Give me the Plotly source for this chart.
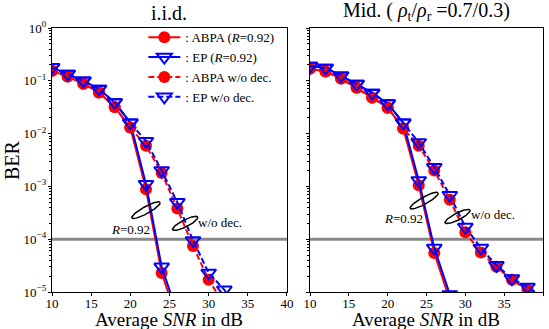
import numpy as np
import plotly.graph_objects as go

# ---------------- data ----------------
snr_L = [10, 12, 14, 16, 18, 20, 22, 24, 26]
abpa_L = [0.155, 0.12, 0.088, 0.06, 0.032, 0.013, 0.00088, 2.3e-5, 3e-6]
ep_L = [0.18, 0.135, 0.1, 0.07, 0.039, 0.016, 0.0011, 3.0e-5, 4e-6]
snr_wo_L = [10, 12, 14, 16, 18, 20, 22, 24, 26, 28, 30, 32, 34]
abpa_wo_L = [0.155, 0.12, 0.088, 0.06, 0.032, 0.013, 0.0059, 0.0018, 3.8e-4, 7.4e-5, 1.7e-5, 6e-6, 2e-6]
ep_wo_L = [0.18, 0.135, 0.1, 0.07, 0.039, 0.016, 0.0072, 0.002, 5e-4, 9.5e-5, 2.3e-5, 1.1e-5, 4e-6]

snr_R = [10, 12, 14, 16, 18, 20, 22, 24, 26, 28]
abpa_R = [0.17, 0.15, 0.11, 0.074, 0.048, 0.031, 0.0125, 0.00105, 5.5e-5, 7e-6]
ep_R = [0.19, 0.175, 0.125, 0.087, 0.059, 0.037, 0.016, 0.0013, 6.8e-5, 9e-6]
snr_wo_R = [10, 12, 14, 16, 18, 20, 22, 24, 26, 28, 30, 32, 34, 36, 38, 40]
abpa_wo_R = [0.17, 0.15, 0.11, 0.074, 0.048, 0.031, 0.0125, 0.0059, 0.002, 5.6e-4, 1.35e-4, 5.6e-5, 3e-5, 1.7e-5, 1.1e-5, 7e-6]
ep_wo_R = [0.19, 0.175, 0.125, 0.087, 0.059, 0.037, 0.016, 0.0068, 0.0023, 6.8e-4, 1.7e-4, 6.8e-5, 3.2e-5, 1.8e-5, 1.25e-5, 8e-6]

ref_ber = 1e-4
x_ticks = [10, 15, 20, 25, 30, 35, 40]
y_tickvals = [1, 1e-1, 1e-2, 1e-3, 1e-4, 1e-5]
y_ticktext = ["10<sup>0</sup>", "10<sup>\u22121</sup>", "10<sup>\u22122</sup>",
              "10<sup>\u22123</sup>", "10<sup>\u22124</sup>", "10<sup>\u22125</sup>"]

legend_names = [": ABPA (<i>R</i>=0.92)", ": EP (<i>R</i>=0.92)",
                ": ABPA w/o dec.", ": EP w/o dec."]

FONT = "Liberation Serif"
RED = "#ff0000"
BLUE = "#0000ff"
DASH = "6px,3px"

fig = go.Figure()

def add_set(xa, ya, sx, a, e, swo, awo, ewo, show):
    fig.add_trace(go.Scatter(x=sx, y=a, mode="lines+markers", name=legend_names[0],
                             line=dict(color=RED, width=2),
                             marker=dict(symbol="circle", size=12, color=RED),
                             xaxis=xa, yaxis=ya, showlegend=show))
    fig.add_trace(go.Scatter(x=sx, y=e, mode="lines+markers", name=legend_names[1],
                             line=dict(color=BLUE, width=2),
                             marker=dict(symbol="triangle-down-open", size=13, color=BLUE,
                                         line=dict(width=2, color=BLUE)),
                             xaxis=xa, yaxis=ya, showlegend=show))
    fig.add_trace(go.Scatter(x=swo, y=awo, mode="lines+markers", name=legend_names[2],
                             line=dict(color=RED, width=2, dash=DASH),
                             marker=dict(symbol="circle", size=12, color=RED),
                             xaxis=xa, yaxis=ya, showlegend=show))
    fig.add_trace(go.Scatter(x=swo, y=ewo, mode="lines+markers", name=legend_names[3],
                             line=dict(color=BLUE, width=2, dash=DASH),
                             marker=dict(symbol="triangle-down-open", size=13, color=BLUE,
                                         line=dict(width=2, color=BLUE)),
                             xaxis=xa, yaxis=ya, showlegend=show))

# reference lines at BER = 1e-4
for xa, ya in (("x", "y"), ("x2", "y2")):
    fig.add_trace(go.Scatter(x=[x_ticks[0], x_ticks[-1]], y=[ref_ber, ref_ber], mode="lines",
                             line=dict(color="#888888", width=3), xaxis=xa, yaxis=ya,
                             showlegend=False, hoverinfo="skip"))

add_set("x", "y", snr_L, abpa_L, ep_L, snr_wo_L, abpa_wo_L, ep_wo_L, True)
add_set("x2", "y2", snr_R, abpa_R, ep_R, snr_wo_R, abpa_wo_R, ep_wo_R, False)

# ellipses (annotation marks), defined in pixel offsets around a data-space centre
PX_PER_DB = 7.8
PX_PER_DEC = 52.8
def ellipse(xa, ya, cx, cy_log, a_px, b_px, ang_deg):
    t = np.linspace(0, 2 * np.pi, 80)
    th = np.deg2rad(ang_deg)
    dx = a_px * np.cos(t) * np.cos(th) - b_px * np.sin(t) * np.sin(th)
    dy = a_px * np.cos(t) * np.sin(th) + b_px * np.sin(t) * np.cos(th)
    xs = cx + dx / PX_PER_DB
    ys = 10 ** (cy_log + dy / PX_PER_DEC)
    fig.add_trace(go.Scatter(x=xs, y=ys, mode="lines", line=dict(color="black", width=1.5),
                             xaxis=xa, yaxis=ya, showlegend=False, hoverinfo="skip"))

ellipse("x", "y", 22.0, -3.45, 16, 3.5, 29)
ellipse("x", "y", 27.0, -3.70, 14, 3.5, 27)
ellipse("x2", "y2", 24.7, -3.27, 16, 3.5, 29)
ellipse("x2", "y2", 29.0, -3.57, 14, 3.5, 27)

ann_font = dict(family=FONT, size=13, color="black")
xtitle_font = dict(family=FONT, size=19, color="black")
annotations = [
    dict(x=20.0, y=-3.81, xref="x", yref="y", text="<i>R</i>=0.92", showarrow=False,
         font=ann_font, xanchor="center"),
    dict(x=28.4, y=-3.68, xref="x", yref="y", text="w/o dec.", showarrow=False,
         font=ann_font, xanchor="left"),
    dict(x=22.0, y=-3.60, xref="x2", yref="y2", text="<i>R</i>=0.92", showarrow=False,
         font=ann_font, xanchor="center"),
    dict(x=30.5, y=-3.54, xref="x2", yref="y2", text="w/o dec.", showarrow=False,
         font=ann_font, xanchor="left"),
    dict(x=0.2393, y=1.0, xref="paper", yref="paper", xanchor="center", yanchor="bottom", yshift=2,
         text="i.i.d.", showarrow=False, font=dict(family=FONT, size=20, color="black")),
    dict(x=0.7627, y=1.0, xref="paper", yref="paper", xanchor="center", yanchor="bottom", yshift=2,
         text="Mid. ( <i>\u03c1</i><sub>t</sub>/<i>\u03c1</i><sub>r</sub> =0.7/0.3)",
         showarrow=False, font=dict(family=FONT, size=20, color="black")),
    dict(x=0.2393, y=-0.106, xref="paper", yref="paper", xanchor="center", yanchor="middle",
         text="Average <i>SNR</i> in dB", showarrow=False, font=xtitle_font),
    dict(x=0.7627, y=-0.106, xref="paper", yref="paper", xanchor="center", yanchor="middle",
         text="Average <i>SNR</i> in dB", showarrow=False, font=xtitle_font),
    dict(x=-0.0815, y=0.5, xref="paper", yref="paper", xanchor="center", yanchor="middle",
         textangle=-90, text="BER", showarrow=False,
         font=dict(family=FONT, size=20, color="black")),
]

axis_common = dict(showline=True, linecolor="black", linewidth=1.3, mirror=True,
                   showgrid=False, zeroline=False, ticks="outside", ticklen=3,
                   tickcolor="black", automargin=False,
                   tickfont=dict(family=FONT, size=13, color="black"))

xcommon = dict(axis_common, range=[10, 40], tickvals=x_ticks, ticklabelstandoff=-4)
ycommon = dict(axis_common, type="log", range=[-5, 0], tickvals=y_tickvals, ticktext=y_ticktext,
               minor=dict(ticks="outside", ticklen=2, tickcolor="black", dtick="D1", showgrid=False))

fig.update_layout(
    template="none",
    width=549, height=329,
    margin=dict(l=52, r=6, t=28, b=37, autoexpand=False),
    paper_bgcolor="white", plot_bgcolor="white",
    font=dict(family=FONT, color="black", size=13),
    xaxis=dict(xcommon, domain=[0, 0.4786], anchor="y"),
    xaxis2=dict(xcommon, domain=[0.5255, 1], anchor="y2"),
    yaxis=dict(ycommon, domain=[0, 1], anchor="x", ticklabelstandoff=-1),
    yaxis2=dict(ycommon, domain=[0, 1], anchor="x2", showticklabels=False),
    legend=dict(x=0.186, y=1.022, xanchor="left", yanchor="top", bgcolor="rgba(0,0,0,0)",
                borderwidth=0, font=dict(family=FONT, size=13, color="black"),
                traceorder="normal", itemwidth=32),
    annotations=annotations,
    showlegend=True,
)

fig.write_html("out.html", config={"displayModeBar": False},
               post_script="document.body.style.margin='0px';document.documentElement.style.margin='0px';")
